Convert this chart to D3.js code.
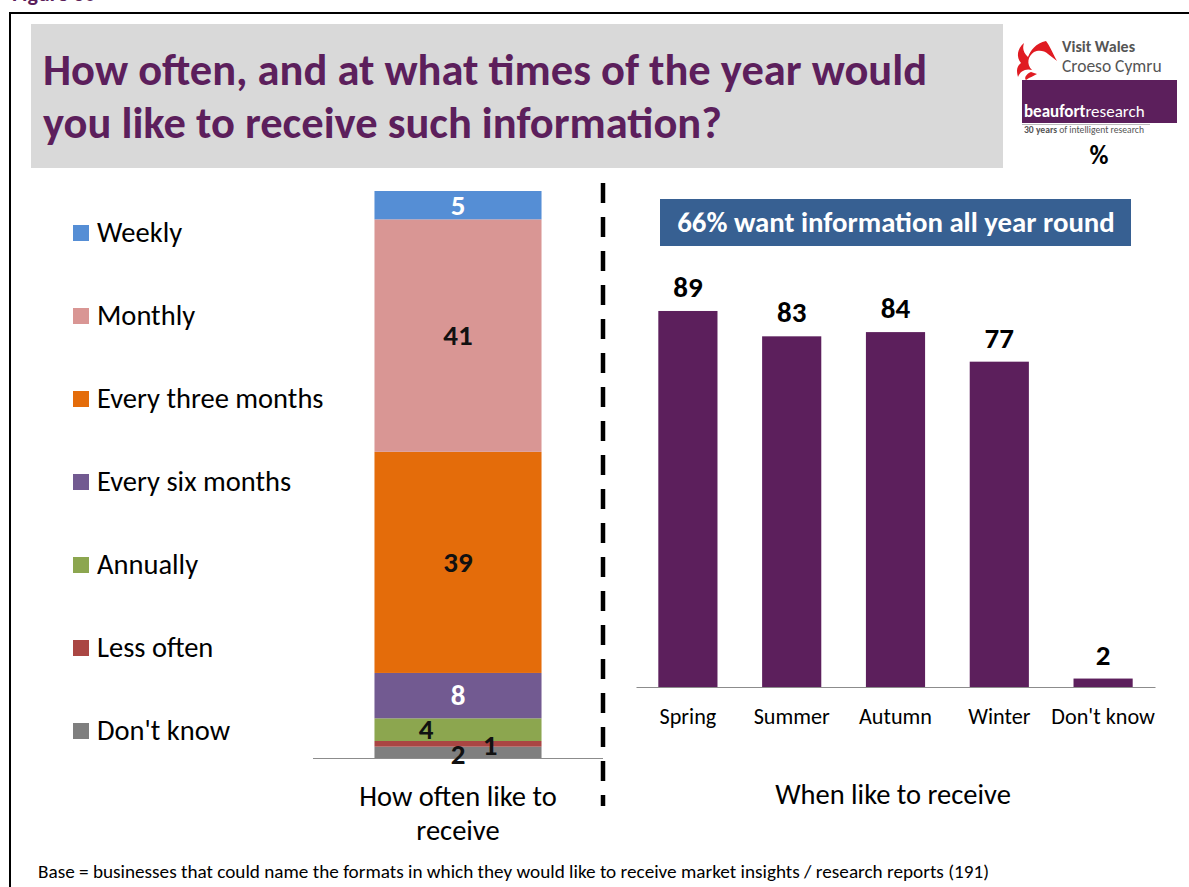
<!DOCTYPE html>
<html>
<head>
<meta charset="utf-8">
<script src="https://cdn.jsdelivr.net/npm/d3@7"></script>
<style>
  html, body { margin: 0; padding: 0; background: #fff; }
  svg { display: block; font-family: Carlito, Calibri, "Open Sans", sans-serif; }
</style>
</head>
<body>
<svg id="chart" width="1189" height="887"></svg>
<script>
// ---- Data ----
// How often respondents would like to receive information (stacked, %)
const freqCategories = ["Weekly", "Monthly", "Every three months", "Every six months", "Annually", "Less often", "Don't know"];
const freqValues     = [5, 41, 39, 8, 4, 1, 2];
const freqColors     = ["#558ed5", "#d99694", "#e46c0a", "#725a91", "#8ca64f", "#aa4643", "#7f7f7f"];
const freqLabelColors = ["#fff", "#111", "#111", "#fff", "#111", "#111", "#111"];
// label nudges for the thin segments (dx, dy in px)
const freqLabelNudge = [[0, 0], [0, 0], [0, 0], [0, 0], [-32, 0], [32, 2], [0, 2]];
const freqAxisLabel  = ["How often like to", "receive"];

// When respondents would like to receive information (%)
const seasonCategories = ["Spring", "Summer", "Autumn", "Winter", "Don't know"];
const seasonValues     = [89, 83, 84, 77, 2];
const seasonAxisLabel  = "When like to receive";

const titleLines = ["How often, and at what times of the year would", "you like to receive such information?"];
const bannerText = "66% want information all year round";
const footnote   = "Base = businesses that could name the formats in which they would like to receive market insights / research reports (191)";

const purple = "#5c1f5c";
const svg = d3.select("#chart");

// ---- Frame and heading ----
svg.append("text").attr("x", 12).attr("y", 1).attr("fill", purple)
  .attr("font-weight", "bold").attr("font-size", 22).text("Figure 30");

svg.append("rect").attr("x", 10).attr("y", 13).attr("width", 1200).attr("height", 900)
  .attr("fill", "none").attr("stroke", "#000").attr("stroke-width", 2);

svg.append("rect").attr("x", 31).attr("y", 24).attr("width", 972).attr("height", 144)
  .attr("fill", "#d9d9d9");

svg.append("g").selectAll("text").data(titleLines).join("text")
  .attr("x", 43).attr("y", (d, i) => 85 + i * 53)
  .attr("fill", purple).attr("font-weight", "bold").attr("font-size", 44.5)
  .text(d => d);

// ---- Logos ----
const logo = svg.append("g");
// dragon mark
logo.append("path").attr("fill", "#e01b22")
  .attr("d", "M1046,41 C1036,43 1030,51 1028,57 C1024,53 1022,49 1024,43 C1017,49 1016,57 1021,63 C1017,66 1016,70 1018,77 C1020,71 1026,68 1032,70 C1026,64 1028,56 1034,52 C1038,50 1044,50 1048,54 L1057,61 C1052,52 1050,46 1046,41 Z");
logo.append("path").attr("fill", "#e01b22")
  .attr("d", "M1031,72 C1026,74 1024,78 1026,80 C1030,77 1034,76 1037,74 Z");
logo.append("text").attr("x", 1062).attr("y", 52).attr("font-size", 16)
  .attr("font-weight", "bold").attr("fill", "#555").text("Visit Wales");
logo.append("text").attr("x", 1062).attr("y", 72).attr("font-size", 17.5)
  .attr("fill", "#555").text("Croeso Cymru");
logo.append("rect").attr("x", 1022).attr("y", 80).attr("width", 155).attr("height", 43).attr("fill", purple);
const bt = logo.append("text").attr("x", 1024).attr("y", 117).attr("font-size", 17).attr("fill", "#fff");
bt.append("tspan").attr("font-weight", "bold").text("beaufort");
bt.append("tspan").text("research");
logo.append("line").attr("x1", 1022).attr("x2", 1150).attr("y1", 124.5).attr("y2", 124.5)
  .attr("stroke", "#bbb").attr("stroke-width", 1);
const yt = logo.append("text").attr("x", 1024).attr("y", 133).attr("font-size", 9.6).attr("fill", "#555");
yt.append("tspan").attr("font-weight", "bold").text("30 years");
yt.append("tspan").text(" of intelligent research");
logo.append("text").attr("x", 1099).attr("y", 164).attr("text-anchor", "middle")
  .attr("font-size", 26).attr("font-weight", "bold").attr("fill", "#000").text("%");

// ---- Left: stacked frequency bar ----
const yL = d3.scaleLinear().domain([0, 100]).range([758, 191]);
const xL = d3.scaleBand().domain(["freq"]).range([313, 603]).paddingInner(0).paddingOuter(0.368);

// cumulative stack from the bottom (last category at the base)
const stackOrder = freqCategories.map((c, i) => i).reverse();
let acc = 0;
const segs = stackOrder.map(i => {
  const s = { i, y0: acc, y1: acc + freqValues[i] };
  acc += freqValues[i];
  return s;
});

const left = svg.append("g");
left.selectAll("rect.seg").data(segs).join("rect").attr("class", "seg")
  .attr("x", xL("freq")).attr("width", xL.bandwidth())
  .attr("y", d => yL(d.y1)).attr("height", d => yL(d.y0) - yL(d.y1))
  .attr("fill", d => freqColors[d.i]);

left.append("line").attr("x1", 313).attr("x2", 603).attr("y1", 758.5).attr("y2", 758.5)
  .attr("stroke", "#8c8c8c").attr("stroke-width", 1.2);

left.selectAll("text.val").data(segs).join("text").attr("class", "val")
  .attr("x", d => xL("freq") + xL.bandwidth() / 2 + freqLabelNudge[d.i][0])
  .attr("y", d => (yL(d.y0) + yL(d.y1)) / 2 + freqLabelNudge[d.i][1])
  .attr("dy", "0.33em").attr("text-anchor", "middle")
  .attr("font-size", 29).attr("font-weight", "bold")
  .attr("fill", d => freqLabelColors[d.i]).text(d => freqValues[d.i]);

left.selectAll("text.cat").data(freqAxisLabel).join("text").attr("class", "cat")
  .attr("x", xL("freq") + xL.bandwidth() / 2).attr("y", (d, i) => 806 + i * 34)
  .attr("text-anchor", "middle").attr("font-size", 28.5).attr("fill", "#000").text(d => d);

// legend
const legend = svg.append("g");
const legItems = legend.selectAll("g").data(freqCategories).join("g")
  .attr("transform", (d, i) => `translate(73, ${242 + i * 83})`);
legItems.append("rect").attr("x", 0).attr("y", -17).attr("width", 16).attr("height", 16)
  .attr("fill", (d, i) => freqColors[i]);
legItems.append("text").attr("x", 24).attr("y", 0).attr("font-size", 28.5).attr("fill", "#000").text(d => d);

// ---- Divider ----
svg.append("line").attr("x1", 603).attr("x2", 603).attr("y1", 183).attr("y2", 806)
  .attr("stroke", "#000").attr("stroke-width", 4.5).attr("stroke-dasharray", "20 14");

// ---- Right: seasons bar chart ----
const xR = d3.scaleBand().domain(seasonCategories).range([636, 1155]).paddingInner(0.43).paddingOuter(0.215);
const yR = d3.scaleLinear().domain([0, 100]).range([687, 264.5]);
const right = svg.append("g");

right.selectAll("rect.bar").data(seasonValues).join("rect").attr("class", "bar")
  .attr("x", (d, i) => xR(seasonCategories[i])).attr("width", xR.bandwidth())
  .attr("y", d => yR(d)).attr("height", d => yR(0) - yR(d)).attr("fill", purple);

const xAxis = d3.axisBottom(xR).tickSize(0).tickPadding(0);
const ax = right.append("g").attr("transform", "translate(0,687)").call(xAxis);
ax.select(".domain").attr("stroke", "#8c8c8c").attr("stroke-width", 1.2);
ax.selectAll(".tick text").attr("y", 37).attr("dy", 0).attr("font-size", 22.2)
  .attr("font-family", "Carlito, Calibri, 'Open Sans', sans-serif").attr("fill", "#000");

right.selectAll("text.val").data(seasonValues).join("text").attr("class", "val")
  .attr("x", (d, i) => xR(seasonCategories[i]) + xR.bandwidth() / 2)
  .attr("y", d => yR(d) - 14).attr("text-anchor", "middle")
  .attr("font-size", 29).attr("font-weight", "bold").attr("fill", "#000").text(d => d);

right.append("text").attr("x", 893).attr("y", 804).attr("text-anchor", "middle")
  .attr("font-size", 28.5).attr("fill", "#000").text(seasonAxisLabel);

// banner
right.append("rect").attr("x", 660).attr("y", 199).attr("width", 471).attr("height", 47).attr("fill", "#376092");
right.append("text").attr("x", 896).attr("y", 232).attr("text-anchor", "middle")
  .attr("font-size", 28.8).attr("font-weight", "bold").attr("fill", "#fff").text(bannerText);

// ---- Footnote ----
svg.append("text").attr("x", 38).attr("y", 878).attr("font-size", 19.2).attr("fill", "#000").text(footnote);
</script>
</body>
</html>
